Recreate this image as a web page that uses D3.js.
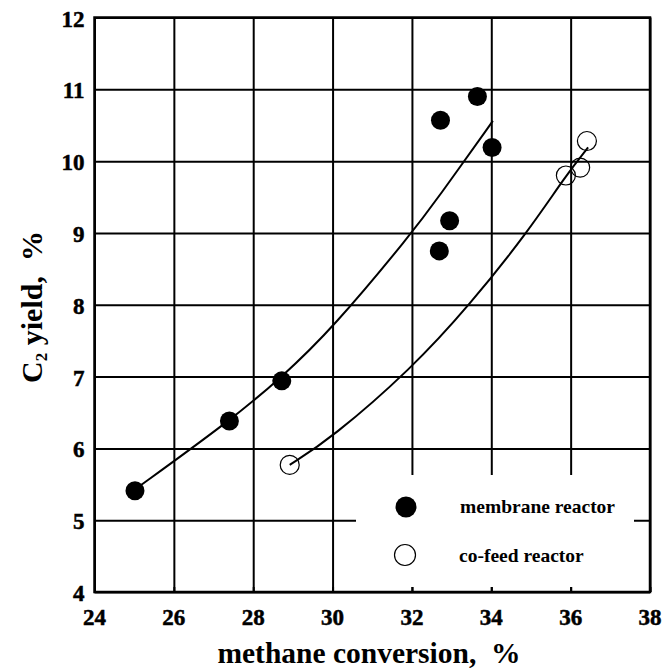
<!DOCTYPE html>
<html>
<head>
<meta charset="utf-8">
<script src="https://cdn.jsdelivr.net/npm/d3@7"></script>
<style>
  body { margin: 0; background: #fff; }
  svg { display: block; }
  text { font-family: 'Liberation Serif', 'Times New Roman', serif; font-weight: bold; white-space: pre; }
</style>
</head>
<body>
<svg id="chart" width="663" height="669"></svg>
<script>
// membrane reactor (filled)
const membraneX = [25.02, 27.40, 28.72, 32.69, 32.95, 32.72, 33.65, 34.02];
const membraneY = [5.41, 6.38, 6.94, 8.75, 9.17, 10.57, 10.90, 10.19];
// co-feed reactor (open)
const cofeedX = [28.92, 35.88, 36.24, 36.41];
const cofeedY = [5.77, 9.80, 9.91, 10.28];

// trend curves
const membraneFitX = [25.0, 27.4, 28.7, 30.0, 32.0, 32.62, 34.04];
const membraneFitY = [5.42, 6.38, 6.98, 7.67, 9.0, 9.46, 10.56];
const cofeedFitX = [28.92, 29.97, 31.99, 33.46, 34.93, 35.88, 36.44];
const cofeedFitY = [5.77, 6.14, 7.11, 8.0, 9.02, 9.80, 10.19];

const xTicks = [24, 26, 28, 30, 32, 34, 36, 38];
const yTicks = [4, 5, 6, 7, 8, 9, 10, 11, 12];

const margin = { left: 94.5, top: 17.5 };
const width = 555.5, height = 574.5;
const FONT = "'Liberation Serif', 'Times New Roman', serif";

const svg = d3.select('#chart');
const g = svg.append('g').attr('transform', `translate(${margin.left},${margin.top})`);

const x = d3.scaleLinear().domain([24, 38]).range([0, width]);
const y = d3.scaleLinear().domain([4, 12]).range([height, 0]);

// grid
g.append('g')
  .attr('transform', `translate(0,${height})`)
  .call(d3.axisBottom(x).tickValues(xTicks).tickSize(-height).tickFormat(() => ''))
  .call(a => a.select('.domain').remove())
  .call(a => a.selectAll('text').remove())
  .call(a => a.selectAll('line').attr('stroke', '#000').attr('stroke-width', 2));
g.append('g')
  .call(d3.axisLeft(y).tickValues(yTicks).tickSize(-width).tickFormat(() => ''))
  .call(a => a.select('.domain').remove())
  .call(a => a.selectAll('text').remove())
  .call(a => a.selectAll('line').attr('stroke', '#000').attr('stroke-width', 2));

// trend lines
const line = d3.line().x(d => x(d[0])).y(d => y(d[1])).curve(d3.curveBasis);
g.append('path')
  .datum(d3.zip(membraneFitX, membraneFitY))
  .attr('d', line).attr('fill', 'none').attr('stroke', '#000').attr('stroke-width', 2);
g.append('path')
  .datum(d3.zip(cofeedFitX, cofeedFitY))
  .attr('d', line).attr('fill', 'none').attr('stroke', '#000').attr('stroke-width', 2);

// points
g.selectAll('.mem').data(d3.zip(membraneX, membraneY)).enter().append('circle')
  .attr('class', 'mem')
  .attr('cx', d => x(d[0])).attr('cy', d => y(d[1])).attr('r', 9.5)
  .attr('fill', '#000');
g.selectAll('.cof').data(d3.zip(cofeedX, cofeedY)).enter().append('circle')
  .attr('class', 'cof')
  .attr('cx', d => x(d[0])).attr('cy', d => y(d[1])).attr('r', 9.5)
  .attr('fill', 'none').attr('stroke', '#000').attr('stroke-width', 1.2);

// legend box covers the grid
const lg = svg.append('g');
lg.append('rect').attr('x', 356).attr('y', 475).attr('width', 278).attr('height', 112).attr('fill', '#fff');
lg.append('circle').attr('cx', 406).attr('cy', 507).attr('r', 10.5).attr('fill', '#000');
lg.append('circle').attr('cx', 405).attr('cy', 555).attr('r', 10.5).attr('fill', '#fff')
  .attr('stroke', '#000').attr('stroke-width', 1.2);
lg.append('text').attr('x', 460).attr('y', 513).style('font-family', FONT).style('font-size', '19.5px').text('membrane reactor');
lg.append('text').attr('x', 459).attr('y', 561.5).style('font-family', FONT).style('font-size', '19.5px').text('co-feed reactor');

// inward ticks + frame
g.append('g')
  .attr('transform', `translate(0,${height})`)
  .call(d3.axisBottom(x).tickValues(xTicks).tickSize(-5).tickFormat(() => ''))
  .call(a => a.select('.domain').remove())
  .call(a => a.selectAll('text').remove())
  .call(a => a.selectAll('line').attr('stroke', '#000').attr('stroke-width', 2));
g.append('rect').attr('width', width).attr('height', height)
  .attr('fill', 'none').attr('stroke', '#000').attr('stroke-width', 2.5);

// tick labels (thin stroke to match the heavier print)
const labels = svg.append('g');
labels.selectAll('text.xl').data(xTicks).enter().append('text')
  .attr('class', 'xl')
  .attr('x', d => margin.left + x(d)).attr('y', margin.top + height + 33)
  .attr('text-anchor', 'middle')
  .attr('stroke', '#000').attr('stroke-width', 0.5)
  .style('font-family', FONT).style('font-weight', 'bold').style('font-size', '23px')
  .text(d => String(d));
labels.selectAll('text.yl').data(yTicks).enter().append('text')
  .attr('class', 'yl')
  .attr('x', margin.left - 10).attr('y', d => margin.top + y(d) + 9)
  .attr('text-anchor', 'end')
  .attr('stroke', '#000').attr('stroke-width', 0.5)
  .style('font-family', FONT).style('font-weight', 'bold').style('font-size', '23px')
  .text(d => String(d));

// axis titles
svg.append('text').attr('x', 369).attr('y', 663).style('font-family', FONT)
  .attr('text-anchor', 'middle').style('font-size', '29.5px').text('methane conversion,  %');
const yt = svg.append('text').attr('transform', 'translate(42,307) rotate(-90)')
  .style('font-family', FONT).attr('text-anchor', 'middle').style('font-size', '30px');
yt.append('tspan').text('C');
yt.append('tspan').style('font-size', '17px').attr('dy', 5).text('2');
yt.append('tspan').attr('dy', -5).text(' yield,  %');
</script>
</body>
</html>
